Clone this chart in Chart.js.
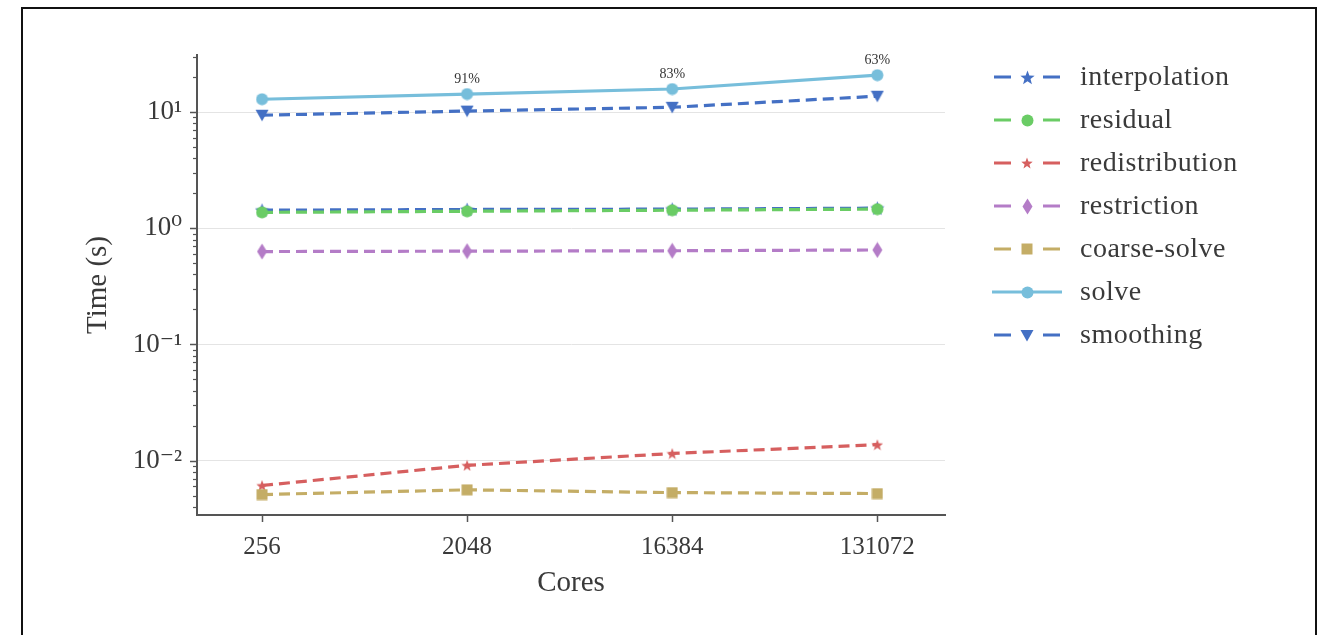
<!DOCTYPE html>
<html><head><meta charset="utf-8">
<script src="https://cdn.jsdelivr.net/npm/chart.js@4.4.0/dist/chart.umd.min.js"></script>
<style>
html,body{margin:0;padding:0;background:#fff;}
#wrap{position:relative;width:1323px;height:635px;overflow:hidden;background:#fff}
#frame{position:absolute;left:21px;top:7px;width:1296px;height:700px;border:2px solid #111;box-sizing:border-box;pointer-events:none}
canvas{position:absolute;left:0;top:0}
</style></head><body>
<div id="wrap"><canvas id="c" width="1323" height="635"></canvas><div id="frame"></div></div>
<script>
// ---- data ----
const cores = ['256', '2048', '16384', '131072'];
const interpolation = [1.43, 1.45, 1.46, 1.49];
const residual = [1.37, 1.40, 1.43, 1.46];
const redistribution = [0.0061, 0.0091, 0.0115, 0.0137];
const restriction = [0.63, 0.635, 0.64, 0.65];
const coarseSolve = [0.0051, 0.0056, 0.0053, 0.0052];
const solve = [12.9, 14.3, 15.8, 20.8];
const smoothing = [9.4, 10.2, 11.0, 13.7];
const efficiency = ['', '91%', '83%', '63%'];
const yTicks = [0.01, 0.1, 1, 10];
const yTickLabels = ['10⁻²', '10⁻¹', '10⁰', '10¹'];

const FONT = "'Liberation Serif', 'DejaVu Serif', serif";
const TXT = '#3a3a3a';
const AX = '#555555';

function mk(shape, color, w, h) {
  h = h || w;
  const c = document.createElement('canvas');
  c.width = w; c.height = h;
  const g = c.getContext('2d');
  g.fillStyle = color;
  g.beginPath();
  const cx = w / 2, cy = h / 2;
  if (shape === 'circle') {
    g.arc(cx, cy, w / 2 - 0.5, 0, Math.PI * 2);
  } else if (shape === 'square') {
    g.rect(0.5, 0.5, w - 1, h - 1);
  } else if (shape === 'star') {
    const R = w / 2, r = R * 0.42;
    for (let i = 0; i < 10; i++) {
      const a = -Math.PI / 2 + i * Math.PI / 5;
      const rr = i % 2 ? r : R;
      const px = cx + rr * Math.cos(a), py = cy + 0.6 + rr * Math.sin(a);
      i ? g.lineTo(px, py) : g.moveTo(px, py);
    }
    g.closePath();
  } else if (shape === 'diamond') {
    g.moveTo(cx, 0.5); g.lineTo(w - 0.5, cy); g.lineTo(cx, h - 0.5); g.lineTo(0.5, cy); g.closePath();
  } else if (shape === 'tri') {
    g.moveTo(0.5, 1); g.lineTo(w - 0.5, 1); g.lineTo(cx, h - 0.5); g.closePath();
  }
  g.fill();
  return c;
}

const C = {
  blue: '#4470C4', green: '#6ACC65', red: '#D65F5F', purple: '#B47CC7',
  yellow: '#C4AD66', cyan: '#77BEDB'
};

const series = [
  { name: 'interpolation', vals: interpolation, color: C.blue, dash: true, img: mk('star', C.blue, 15) },
  { name: 'residual', vals: residual, color: C.green, dash: true, img: mk('circle', C.green, 13) },
  { name: 'redistribution', vals: redistribution, color: C.red, dash: true, img: mk('star', C.red, 12) },
  { name: 'restriction', vals: restriction, color: C.purple, dash: true, img: mk('diamond', C.purple, 11, 17) },
  { name: 'coarse-solve', vals: coarseSolve, color: C.yellow, dash: true, img: mk('square', C.yellow, 12) },
  { name: 'solve', vals: solve, color: C.cyan, dash: false, img: mk('circle', C.cyan, 13) },
  { name: 'smoothing', vals: smoothing, color: C.blue, dash: true, img: mk('tri', C.blue, 14, 13) }
];

const datasets = series.map((s, i) => ({
  label: s.name,
  data: s.vals.map((v, j) => ({ x: j, y: v })),
  borderColor: s.color,
  backgroundColor: s.color,
  borderWidth: 3.2,
  borderDash: s.dash ? [11, 6] : [],
  pointStyle: s.img,
  pointRadius: 7,
  order: 20 - i,
  tension: 0
}));

const decorPlugin = {
  id: 'decor',
  afterDraw(chart) {
    const ctx = chart.ctx;
    const xs = chart.scales.x, ys = chart.scales.y;
    const left = chart.chartArea.left;
    ctx.save();
    // minor/major y ticks
    ctx.strokeStyle = AX;
    for (let e = -4; e <= 2; e++) {
      for (let s = 1; s <= 9; s++) {
        const v = s * Math.pow(10, e);
        if (v < ys.min || v > ys.max) continue;
        const py = Math.round(ys.getPixelForValue(v)) + 0.5;
        const len = s === 1 ? 7 : 4;
        ctx.lineWidth = s === 1 ? 1.5 : 1.2;
        ctx.beginPath(); ctx.moveTo(left - len, py); ctx.lineTo(left, py); ctx.stroke();
      }
    }
    // efficiency annotations
    ctx.fillStyle = '#333';
    ctx.font = '14px ' + FONT;
    ctx.textAlign = 'center';
    ctx.textBaseline = 'bottom';
    efficiency.forEach((t, i) => {
      if (!t) return;
      ctx.fillText(t, xs.getPixelForValue(i), ys.getPixelForValue(solve[i]) - 8);
    });
    // axis titles
    ctx.fillStyle = TXT;
    ctx.font = '29px ' + FONT;
    ctx.textBaseline = 'middle';
    ctx.fillText('Cores', (chart.chartArea.left + chart.chartArea.right) / 2, 583);
    ctx.save();
    ctx.translate(98, (chart.chartArea.top + chart.chartArea.bottom) / 2);
    ctx.rotate(-Math.PI / 2);
    ctx.fillText('Time (s)', 0, 0);
    ctx.restore();
    // legend
    const lx0 = 994, lx1 = 1060, tx = 1080;
    ctx.font = '28px ' + FONT;
    ctx.letterSpacing = '0.5px';
    ctx.textAlign = 'left';
    series.forEach((s, i) => {
      const y = 77 + i * 43;
      ctx.strokeStyle = s.color;
      ctx.lineWidth = 3;
      ctx.beginPath();
      if (s.dash) {
        ctx.moveTo(lx0, y); ctx.lineTo(lx0 + 17, y);
        ctx.moveTo(lx1 - 17, y); ctx.lineTo(lx1, y);
      } else {
        ctx.moveTo(lx0 - 2, y); ctx.lineTo(lx1 + 2, y);
      }
      ctx.stroke();
      const cx = (lx0 + lx1) / 2;
      ctx.drawImage(s.img, Math.round(cx - s.img.width / 2), Math.round(y - s.img.height / 2));
      ctx.fillStyle = TXT;
      ctx.fillText(s.name, tx, y + 1);
    });
    ctx.restore();
  }
};

new Chart(document.getElementById('c'), {
  type: 'line',
  data: { datasets },
  options: {
    responsive: false,
    animation: false,
    events: [],
    layout: { padding: { left: 0, top: 55, right: 378, bottom: 0 } },
    plugins: { legend: { display: false }, tooltip: { enabled: false } },
    scales: {
      x: {
        type: 'linear',
        min: -0.317, max: 3.33,
        afterBuildTicks: sc => { sc.ticks = cores.map((_, i) => ({ value: i })); },
        afterFit: sc => { sc.height = 120; },
        ticks: {
          callback: v => cores[v],
          font: { family: FONT, size: 25 }, color: TXT, padding: 10, maxRotation: 0
        },
        grid: { drawOnChartArea: false, drawTicks: true, tickLength: 7, tickColor: AX, tickWidth: 1.5 },
        border: { color: AX, width: 2 }
      },
      y: {
        type: 'logarithmic',
        min: 0.0034, max: 31,
        afterBuildTicks: sc => { sc.ticks = yTicks.map(v => ({ value: v, major: true })); },
        afterFit: sc => { sc.width = 197; },
        ticks: {
          callback: (v, i) => yTickLabels[i],
          font: { family: FONT, size: 27 }, color: TXT, padding: 15
        },
        grid: { color: '#e4e4e4', lineWidth: 1, drawTicks: false },
        border: { color: AX, width: 2 }
      }
    }
  },
  plugins: [decorPlugin]
});
</script>
</body></html>
